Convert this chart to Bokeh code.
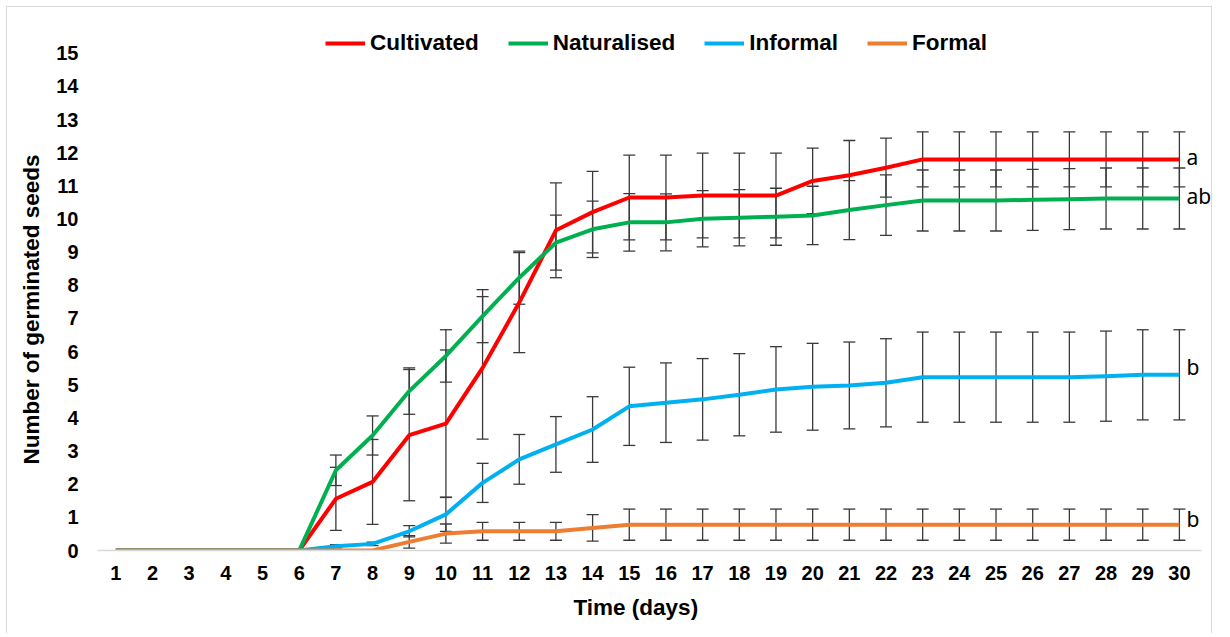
from bokeh.plotting import figure
from bokeh.models import (ColumnDataSource, Whisker, TeeHead, FixedTicker, Legend,
                          LegendItem, Range1d, LabelSet, Title)
from bokeh.core.properties import value
from bokeh.embed import file_html
from bokeh.resources import INLINE

days = list(range(1, 31))
day_labels = [str(d) for d in days]

series_names = ["Cultivated", "Naturalised", "Informal", "Formal"]
series_colors = ["#ff0000", "#00b050", "#00b0f0", "#ed7d31"]
series_letters = ["a", "ab", "b", "b"]

cultivated = [0, 0, 0, 0, 0, 0, 1.56, 2.07, 3.48, 3.83, 5.51, 7.48, 9.66, 10.21, 10.65,
              10.65, 10.71, 10.71, 10.71, 11.15, 11.32, 11.55, 11.80, 11.80, 11.80,
              11.80, 11.80, 11.80, 11.80, 11.80]
cultivated_sd = [0, 0, 0, 0, 0, 0, 0.95, 1.28, 1.98, 2.22, 2.15, 1.51, 1.43, 1.23, 1.28,
                 1.28, 1.28, 1.28, 1.28, 0.99, 1.05, 0.89, 0.83, 0.83, 0.83,
                 0.83, 0.83, 0.83, 0.83, 0.83]

naturalised = [0, 0, 0, 0, 0, 0, 2.42, 3.47, 4.81, 5.87, 7.07, 8.23, 9.29, 9.69, 9.90,
               9.90, 10.01, 10.04, 10.07, 10.11, 10.27, 10.42, 10.56, 10.56, 10.56,
               10.58, 10.60, 10.62, 10.62, 10.62]
naturalised_sd = [0, 0, 0, 0, 0, 0, 0.46, 0.59, 0.70, 0.79, 0.80, 0.80, 0.83, 0.85, 0.87,
                  0.86, 0.85, 0.85, 0.86, 0.88, 0.89, 0.91, 0.92, 0.92, 0.92,
                  0.92, 0.92, 0.92, 0.92, 0.92]

informal = [0, 0, 0, 0, 0, 0, 0.13, 0.20, 0.58, 1.09, 2.04, 2.75, 3.20, 3.65, 4.35,
            4.46, 4.56, 4.70, 4.86, 4.94, 4.98, 5.06, 5.23, 5.23, 5.23,
            5.23, 5.23, 5.26, 5.30, 5.30]
informal_sd = [0, 0, 0, 0, 0, 0, 0.05, 0.05, 0.17, 0.51, 0.59, 0.75, 0.84, 0.99, 1.18,
               1.20, 1.23, 1.24, 1.29, 1.31, 1.31, 1.33, 1.36, 1.36, 1.36,
               1.36, 1.36, 1.36, 1.36, 1.36]

formal = [0, 0, 0, 0, 0, 0, 0, 0, 0.26, 0.51, 0.58, 0.58, 0.58, 0.68, 0.78,
          0.78, 0.78, 0.78, 0.78, 0.78, 0.78, 0.78, 0.78, 0.78, 0.78,
          0.78, 0.78, 0.78, 0.78, 0.78]
formal_sd = [0, 0, 0, 0, 0, 0, 0, 0, 0.19, 0.29, 0.27, 0.27, 0.27, 0.40, 0.47,
             0.47, 0.47, 0.47, 0.47, 0.47, 0.47, 0.47, 0.47, 0.47, 0.47,
             0.47, 0.47, 0.47, 0.47, 0.47]

y_ticks = list(range(0, 16))

all_means = [cultivated, naturalised, informal, formal]
all_sds = [cultivated_sd, naturalised_sd, informal_sd, formal_sd]

TICK_FONT = "Liberation Sans"

# frame reaches the right edge so the letters are not clipped; top headroom holds the legend
p = figure(width=1206, height=627, output_backend="svg", toolbar_location=None,
           x_range=Range1d(0.5, 30.93), y_range=Range1d(0, 15.9),
           min_border_left=90, min_border_right=0, min_border_top=16, min_border_bottom=84)
p.styles = {"margin-left": "6px", "margin-top": "6px",
            "border-left": "1px solid #d9d9d9", "border-top": "1px solid #d9d9d9",
            "border-right": "1px solid #d9d9d9"}
p.outline_line_color = None
p.xgrid.grid_line_color = None
p.ygrid.grid_line_color = None
p.background_fill_color = "white"
p.border_fill_color = "white"

# axes
p.xaxis.ticker = FixedTicker(ticks=days)
p.xaxis.major_label_overrides = {d: l for d, l in zip(days, day_labels)}
p.xaxis.bounds = (0.5, 30.6)
p.yaxis.ticker = FixedTicker(ticks=y_ticks)
for ax in (p.xaxis[0], p.yaxis[0]):
    ax.major_tick_line_color = None
    ax.minor_tick_line_color = None
    ax.major_label_text_font = TICK_FONT
    ax.major_label_text_font_style = "bold"
    ax.major_label_text_font_size = "20px"
    ax.major_label_text_color = "black"
p.xaxis.axis_line_color = "#d9d9d9"
p.xaxis.axis_line_width = 1.5
p.yaxis.axis_line_color = None
p.xaxis.major_label_standoff = 9
p.yaxis.major_label_standoff = 13

# axis titles placed as in the reference
ytitle = Title(text="Number of germinated seeds", align="left", offset=86, standoff=19,
               text_font=TICK_FONT, text_font_style="bold", text_font_size="22.5px",
               text_color="black")
p.add_layout(ytitle, "left")
xtitle = Title(text="Time (days)", align="left", offset=476, standoff=20,
               text_font=TICK_FONT, text_font_style="bold", text_font_size="22.5px",
               text_color="black")
p.add_layout(xtitle, "below")

# error bars
for mean, sd in zip(all_means, all_sds):
    xs = [d for d, s in zip(days, sd) if s > 0]
    up = [m + s for m, s in zip(mean, sd) if s > 0]
    lo = [m - s for m, s in zip(mean, sd) if s > 0]
    src = ColumnDataSource(dict(x=xs, upper=up, lower=lo))
    w = Whisker(base="x", upper="upper", lower="lower", source=src,
                line_color="#3a3a3a", line_width=1.3,
                upper_head=TeeHead(size=12, line_color="#3a3a3a", line_width=1.3),
                lower_head=TeeHead(size=12, line_color="#3a3a3a", line_width=1.3))
    p.add_layout(w)

items = []
for name, color, mean in zip(series_names, series_colors, all_means):
    r = p.line(days, mean, line_color=color, line_width=4, line_join="round")
    items.append(LegendItem(label=name, renderers=[r]))

legend = Legend(items=items, orientation="horizontal", location=(228, 494),
                padding=0, margin=0, spacing=29, label_standoff=5,
                glyph_width=40, glyph_height=20,
                border_line_color=None, background_fill_alpha=0,
                label_text_font=TICK_FONT, label_text_font_style="bold",
                label_text_font_size="22.5px", label_text_color="black")
p.add_layout(legend)

# significance letters next to the last point of each series
last_vals = [m[-1] for m in all_means]
letter_offsets = [0.06, 0.07, 0.25, 0.16]
letter_src = ColumnDataSource(dict(
    x=[days[-1]] * 4,
    y=[v + o for v, o in zip(last_vals, letter_offsets)],
    text=series_letters))
letters = LabelSet(x="x", y="y", text="text", source=letter_src, x_offset=7,
                   text_font=value("Noto Sans"), text_font_size="21px",
                   text_baseline="middle", text_align="left", text_color="black")
p.add_layout(letters)

open("out.html", "w").write(file_html(p, INLINE))
